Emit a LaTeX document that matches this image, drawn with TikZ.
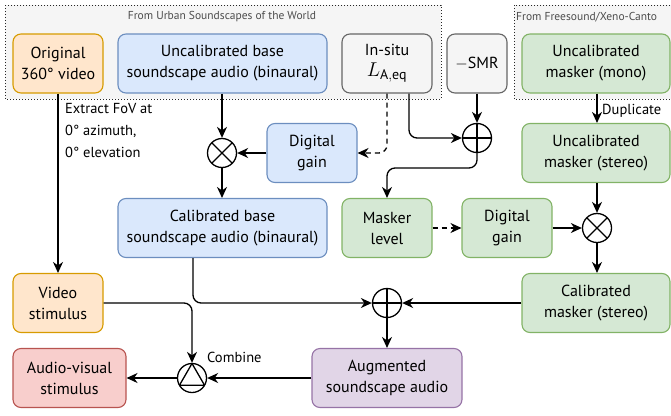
\RequirePackage{fix-cm}
\documentclass[tikz,border=0pt]{standalone}
\usepackage{fontspec}
\setmainfont{PT Sans}
\usetikzlibrary{arrows.meta}

\definecolor{orangefill}{HTML}{FFE6CC}
\definecolor{orangeline}{HTML}{D79B00}
\definecolor{bluefill}{HTML}{DAE8FC}
\definecolor{blueline}{HTML}{6C8EBF}
\definecolor{greenfill}{HTML}{D5E8D4}
\definecolor{greenline}{HTML}{82B366}
\definecolor{greyfill}{HTML}{F5F5F5}
\definecolor{greyline}{HTML}{666666}
\definecolor{redfill}{HTML}{F8CECC}
\definecolor{redline}{HTML}{B85450}
\definecolor{purplefill}{HTML}{E1D5E7}
\definecolor{purpleline}{HTML}{9673A6}

\tikzset{
  block/.style={draw, rounded corners=8pt, line width=1.1pt, align=center,
    minimum height=59pt, inner sep=2pt, font=\fontsize{16}{21}\selectfont},
  videoblock/.style={block, fill=orangefill, draw=orangeline},
  audioblock/.style={block, fill=bluefill, draw=blueline},
  maskblock/.style={block, fill=greenfill, draw=greenline},
  paramblock/.style={block, fill=greyfill, draw=greyline},
  outblock/.style={block, fill=redfill, draw=redline},
  augblock/.style={block, fill=purplefill, draw=purpleline},
  opcirc/.style={circle, draw, fill=white, line width=1.3pt, minimum size=29pt, inner sep=0pt},
  mulop/.style={opcirc, path picture={
      \draw[line width=1.3pt] (path picture bounding box.north west) -- (path picture bounding box.south east)
        (path picture bounding box.north east) -- (path picture bounding box.south west);}},
  addop/.style={opcirc, path picture={
      \draw[line width=1.3pt] (path picture bounding box.north) -- (path picture bounding box.south)
        (path picture bounding box.west) -- (path picture bounding box.east);}},
  combop/.style={opcirc, path picture={
      \draw[line width=1.3pt] (path picture bounding box.center) ++(90:14.5pt) -- ++(-120:25.1pt) -- ++(0:25.1pt) -- cycle;}},
  flow/.style={line width=1.3pt, -{Stealth[length=11pt,width=10pt,inset=3.5pt]}, rounded corners=8pt},
  optional/.style={dash pattern=on 5pt off 4pt},
  group/.style={dotted, line width=1pt, draw=black!85, fill=black!4},
  grouplabel/.style={text=black!70, font=\fontsize{11.5}{13}\selectfont, inner sep=0pt},
  note/.style={font=\fontsize{14.5}{22}\selectfont, inner sep=0pt}
}

\begin{document}
\begin{tikzpicture}[x=1pt, y=-1pt]
  \useasboundingbox (0,0) rectangle (671,415);

  % source datasets
  \draw[group] (5,5) rectangle (441,99);
  \node[grouplabel] (usotw) at (222,17) {From Urban Soundscapes of the World};
  \draw[group] (514,5) rectangle (690,99);
  \node[grouplabel, anchor=west] (fsxc) at (516,17) {From Freesound/Xeno-Canto};

  % top row
  \node[videoblock, minimum width=90pt]  (orig)   at (58,63.5)    {Original\\360° video};
  \node[audioblock, minimum width=209pt] (ubase)  at (222.5,63.5) {Uncalibrated base\\soundscape audio (binaural)};
  \node[paramblock, minimum width=90pt]  (insitu) at (387,63.5)   {In-situ\\\fontsize{20}{21}\selectfont$L_{\mathrm{A,eq}}$};
  \node[paramblock, minimum width=60pt]  (smr)    at (477,63.5)   {$-$SMR};
  \node[maskblock, minimum width=148pt]  (umono)  at (596,63.5)   {Uncalibrated\\masker (mono)};

  % calibration
  \node[mulop]  (mulbase) at (222,153) {};
  \node[audioblock, minimum width=90pt]  (gainbase) at (312,153) {Digital\\gain};
  \node[addop]  (addsmr)  at (477,138) {};
  \node[maskblock, minimum width=148pt]  (ustereo) at (596,153) {Uncalibrated\\masker (stereo)};

  \node[audioblock, minimum width=209pt] (cbase)  at (222.5,228) {Calibrated base\\soundscape audio (binaural)};
  \node[maskblock, minimum width=90pt]   (mlevel) at (387,228)   {Masker\\level};
  \node[maskblock, minimum width=90pt]   (gainmask) at (507,228) {Digital\\gain};
  \node[mulop]  (mulmask) at (597,228) {};

  % outputs
  \node[videoblock, minimum width=90pt]  (video) at (58,303)  {Video\\stimulus};
  \node[addop]  (addmix) at (387,303) {};
  \node[maskblock, minimum width=148pt]  (cmask) at (596,303) {Calibrated\\masker (stereo)};
  \node[outblock, minimum width=113pt]   (av)    at (69.5,378) {Audio-visual\\stimulus};
  \node[combop] (comb) at (192,378) {};
  \node[augblock, minimum width=150pt]   (aug)   at (387,378) {Augmented\\soundscape audio};

  % labels
  \node[note, anchor=north west, align=left] (fov) at (65,103) {Extract FoV at\\0° azimuth,\\0° elevation};
  \node[note, anchor=west] (dup) at (602,111) {Duplicate};
  \node[note, anchor=west] (combl) at (207,357) {Combine};

  % connectors
  \draw[flow] (orig.south) -- (video.north);
  \draw[flow] (ubase.south -| mulbase) -- (mulbase.north);
  \draw[flow] (gainbase.west) -- (mulbase.east);
  \draw[flow] (mulbase.south) -- (cbase.north -| mulbase);
  \draw[flow, optional] (insitu.south) |- (gainbase.east);
  \draw[flow] ([xshift=22pt]insitu.south) |- (addsmr.west);
  \draw[flow] (smr.south) -- (addsmr.north);
  \draw[flow] (addsmr.south) -- (addsmr.south |- 0,168) -| (mlevel.north);
  \draw[flow, optional] (mlevel.east) -- (gainmask.west);
  \draw[flow] (gainmask.east) -- (mulmask.west);
  \draw[flow] (umono.south -| mulmask) -- (ustereo.north -| mulmask);
  \draw[flow] (ustereo.south -| mulmask) -- (mulmask.north);
  \draw[flow] (mulmask.south) -- (cmask.north -| mulmask);
  \draw[flow] (cmask.west) -- (addmix.east);
  \draw[flow] ([xshift=-29.5pt]cbase.south) |- (addmix.west);
  \draw[flow] (addmix.south) -- (aug.north);
  \draw[flow] (aug.west) -- (comb.east);
  \draw[flow] (video.east) -| (comb.north);
  \draw[flow] (comb.west) -- (av.east);
\end{tikzpicture}
\end{document}
